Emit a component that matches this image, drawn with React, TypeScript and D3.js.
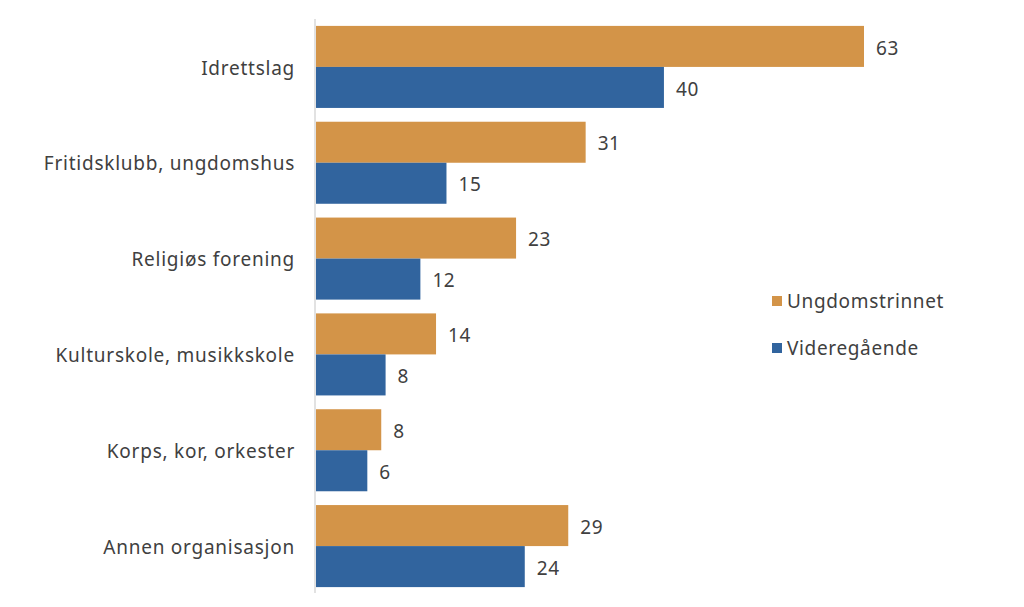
import React from "react";
import * as d3 from "d3";

const categories = [
  "Idrettslag",
  "Fritidsklubb, ungdomshus",
  "Religiøs forening",
  "Kulturskole, musikkskole",
  "Korps, kor, orkester",
  "Annen organisasjon",
];
const seriesNames = ["Ungdomstrinnet", "Videregående"];
const ungdomstrinnet = [63, 31, 23, 13.8, 7.5, 29];
const videregaende = [40, 15, 12, 8, 5.9, 24];
const colors = ["#D39448", "#31649E"];

const W = 1024;
const H = 607;
const FONT = "'Noto Sans', sans-serif";
const TEXT = "#404040";

export default function App() {
  const y = d3
    .scaleBand<string>()
    .domain(categories)
    .range([19, 594])
    .paddingInner(0.144)
    .paddingOuter(0.072);
  const inner = d3.scaleBand<string>().domain(seriesNames).range([0, y.bandwidth()]);
  const x = d3.scaleLinear().domain([0, 63]).range([316, 864]);
  const series = [ungdomstrinnet, videregaende];

  return (
    <svg
      width={W}
      height={H}
      style={{ position: "absolute", left: 0, top: 0, background: "#fff" }}
      fontFamily={FONT}
    >
      {categories.map((c, i) => (
        <g key={c}>
          {series.map((s, k) => {
            const yy = (y(c) as number) + (inner(seriesNames[k]) as number);
            return (
              <g key={k}>
                <rect
                  x={x(0)}
                  y={yy}
                  width={x(s[i]) - x(0)}
                  height={inner.bandwidth()}
                  fill={colors[k]}
                />
                <text
                  x={x(s[i]) + 12}
                  y={yy + inner.bandwidth() / 2 + 1.5}
                  dy="0.35em"
                  fontSize={19}
                  letterSpacing={0.6}
                  fill={TEXT}
                >
                  {Math.round(s[i])}
                </text>
              </g>
            );
          })}
          <text
            x={295}
            y={(y(c) as number) + y.bandwidth() / 2 + 1}
            dy="0.35em"
            textAnchor="end"
            fontSize={19}
            letterSpacing={0.75}
            fill={TEXT}
          >
            {c}
          </text>
        </g>
      ))}
      <line x1={315} x2={315} y1={19} y2={593} stroke="#D9D9D9" strokeWidth={1.5} />
      {seriesNames.map((n, k) => (
        <g key={n} transform={`translate(772, ${300 + k * 47})`}>
          <rect x={0} y={-4} width={10} height={10} fill={colors[k]} />
          <text x={15} y={1} dy="0.35em" fontSize={19} letterSpacing={0.65} fill={TEXT}>
            {n}
          </text>
        </g>
      ))}
    </svg>
  );
}
